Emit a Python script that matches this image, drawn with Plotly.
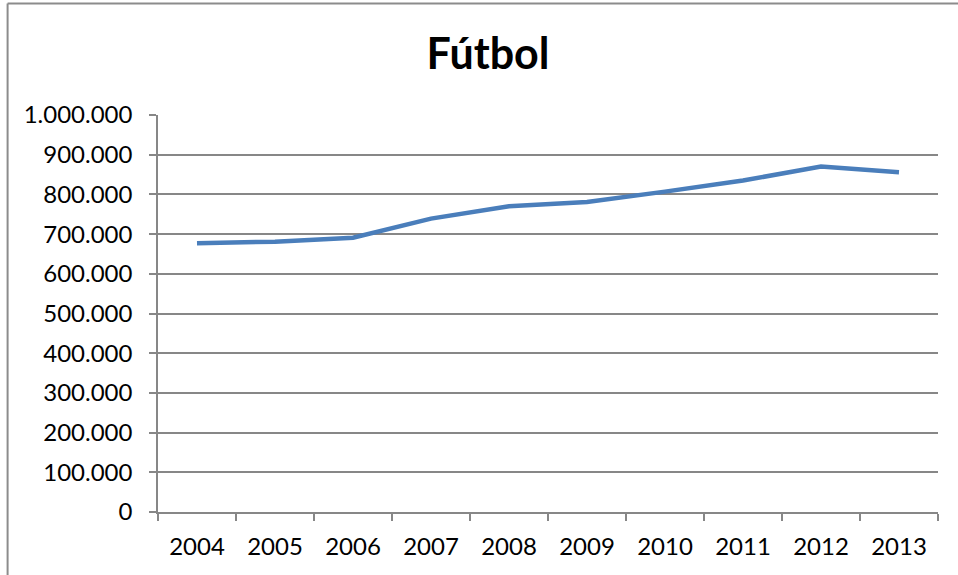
import plotly.graph_objects as go

years = ["2004", "2005", "2006", "2007", "2008", "2009", "2010", "2011", "2012", "2013"]
values = [677000, 681000, 691000, 739000, 770000, 781000, 807000, 835000, 870000, 856000]
y_ticks = [0, 100000, 200000, 300000, 400000, 500000, 600000, 700000, 800000, 900000, 1000000]
title_text = "Fútbol"

W, H = 958, 575
L, R, T, B = 157.5, 938, 114.7, 512

fig = go.Figure()
fig.add_trace(go.Scatter(
    x=years, y=values, mode="lines",
    line=dict(color="#4a7ebb", width=4.5),
    hoverinfo="skip", showlegend=False,
))

def px_x(x):
    return (x - L) / (R - L)

def px_y(y):
    return (B - y) / (B - T)

grid = "#878787"
fig.update_layout(
    width=W, height=H,
    margin=dict(l=L, r=W - R, t=T, b=H - B, pad=0),
    paper_bgcolor="white", plot_bgcolor="white",
    separators=",.",
    font=dict(family="Lato", size=24, color="black"),
    title=dict(text="<b>" + title_text + "</b>", font=dict(family="Lato", size=43, color="black"),
               x=488 / W, xanchor="center", xref="container",
               y=1 - 54 / H, yanchor="middle", yref="container"),
    xaxis=dict(type="category", range=[-0.5, 9.5], tickson="boundaries",
               ticks="outside", ticklen=7, tickwidth=1.5, tickcolor=grid,
               showline=True, linecolor=grid, linewidth=1.5,
               showgrid=False, ticklabelstandoff=12, fixedrange=True),
    yaxis=dict(range=[0, 1000000], tickvals=y_ticks, tickformat=",d",
               ticks="outside", ticklen=7, tickwidth=1.5, tickcolor=grid,
               showline=True, linecolor=grid, linewidth=1.5,
               showgrid=True, gridcolor=grid, gridwidth=1.5,
               zeroline=False, ticklabelstandoff=12, fixedrange=True),
    shapes=[
        dict(type="line", xref="paper", yref="paper",
             x0=px_x(7), x1=px_x(1000), y0=px_y(3), y1=px_y(3),
             line=dict(color="#8c8c8c", width=2)),
        dict(type="line", xref="paper", yref="paper",
             x0=px_x(7), x1=px_x(7), y0=px_y(3), y1=px_y(620),
             line=dict(color="#8c8c8c", width=2)),
    ],
)

fig.write_html("out.html", config={"displayModeBar": False},
               post_script="document.body.style.margin='0';")
